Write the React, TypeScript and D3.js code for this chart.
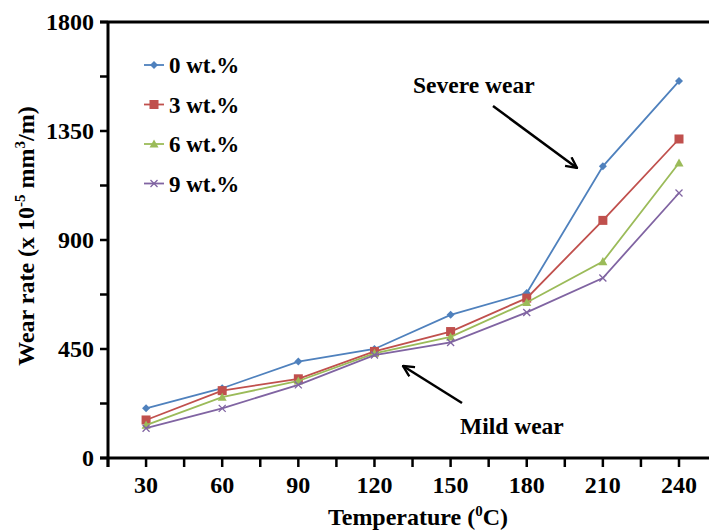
import React from "react";
import * as d3 from "d3";

// Wear rate (x 10^-5 mm^3/m) versus test temperature for four reinforcement contents
const temperatures = [30, 60, 90, 120, 150, 180, 210, 240];
const seriesNames = ["0 wt.%", "3 wt.%", "6 wt.%", "9 wt.%"];
const wear0 = [205, 288, 398, 450, 591, 681, 1204, 1556];
const wear3 = [157, 278, 327, 440, 522, 660, 981, 1317];
const wear6 = [136, 251, 318, 432, 500, 642, 811, 1218];
const wear9 = [123, 205, 302, 425, 477, 601, 743, 1094];
const seriesColors = ["#4f81bd", "#c0504d", "#9bbb59", "#8064a2"];
const markerKinds = ["diamond", "square", "triangle", "cross"];
const xTicks = [30, 60, 90, 120, 150, 180, 210, 240];
const yTicks = [0, 450, 900, 1350, 1800];

const W = 709;
const H = 530;
const FONT = "'Liberation Serif', 'Times New Roman', serif";

function Marker({ kind, x, y, color }: { kind: string; x: number; y: number; color: string }) {
  if (kind === "diamond") {
    const s = 4;
    return <path d={`M${x},${y - s}L${x + s},${y}L${x},${y + s}L${x - s},${y}Z`} fill={color} />;
  }
  if (kind === "square") {
    const s = 4.5;
    return <rect x={x - s} y={y - s} width={2 * s} height={2 * s} fill={color} />;
  }
  if (kind === "triangle") {
    const s = 4.5;
    return <path d={`M${x},${y - s}L${x + s},${y + s * 0.8}L${x - s},${y + s * 0.8}Z`} fill={color} />;
  }
  const s = 3.5;
  return (
    <path
      d={`M${x - s},${y - s}L${x + s},${y + s}M${x - s},${y + s}L${x + s},${y - s}`}
      stroke={color}
      strokeWidth={1.3}
    />
  );
}

export default function App() {
  const x = d3.scaleLinear().domain([15, 240]).range([108, 679]);
  const y = d3.scaleLinear().domain([0, 1800]).range([458, 22]);
  const allSeries = [wear0, wear3, wear6, wear9];
  const line = d3
    .line<number>()
    .x((_, i) => x(temperatures[i]))
    .y((d) => y(d));

  const minorX = d3.range(15, 241, 15);
  const minorY = d3.range(0, 1801, 225);

  return (
    <svg width={W} height={H} style={{ display: "block", position: "absolute", left: 0, top: 0 }}>
      <rect width={W} height={H} fill="#fff" />
      {/* frame lines */}
      <line x1={100} x2={W} y1={y(1800)} y2={y(1800)} stroke="#000" strokeWidth={3} />
      <line x1={x(15)} x2={x(15)} y1={y(1800)} y2={467} stroke="#000" strokeWidth={3} />
      <line x1={100} x2={W} y1={y(0)} y2={y(0)} stroke="#000" strokeWidth={3} />

      {/* y ticks */}
      {minorY.map((v) => (
        <line key={"ym" + v} x1={100} x2={x(15)} y1={y(v)} y2={y(v)} stroke="#000" strokeWidth={2.5} />
      ))}
      {yTicks.map((v) => (
        <text
          key={"yt" + v}
          x={94}
          y={y(v)}
          dy="0.35em"
          textAnchor="end"
          fontFamily={FONT}
          fontWeight="bold"
          fontSize={24}
        >
          {v}
        </text>
      ))}

      {/* x ticks */}
      {minorX.map((v) => (
        <line key={"xm" + v} x1={x(v)} x2={x(v)} y1={y(0)} y2={467} stroke="#000" strokeWidth={2.5} />
      ))}
      {xTicks.map((v) => (
        <text
          key={"xt" + v}
          x={x(v)}
          y={493}
          textAnchor="middle"
          fontFamily={FONT}
          fontWeight="bold"
          fontSize={24}
        >
          {v}
        </text>
      ))}

      {/* axis titles */}
      <text x={418} y={525} textAnchor="middle" fontFamily={FONT} fontWeight="bold" fontSize={24}>
        Temperature (<tspan dy={-9} fontSize={15}>0</tspan>
        <tspan dy={9}>C)</tspan>
      </text>
      <text
        transform="translate(34,236) rotate(-90)"
        textAnchor="middle"
        fontFamily={FONT}
        fontWeight="bold"
        fontSize={24}
      >
        Wear rate (x 10<tspan dy={-9} fontSize={15}>-5</tspan>
        <tspan dy={9}> mm</tspan>
        <tspan dy={-9} fontSize={15}>3</tspan>
        <tspan dy={9}>/m)</tspan>
      </text>

      {/* series */}
      {allSeries.map((vals, si) => (
        <g key={"s" + si}>
          <path d={line(vals) || ""} fill="none" stroke={seriesColors[si]} strokeWidth={1.8} />
          {vals.map((v, i) => (
            <Marker key={i} kind={markerKinds[si]} x={x(temperatures[i])} y={y(v)} color={seriesColors[si]} />
          ))}
        </g>
      ))}

      {/* legend */}
      {seriesNames.map((name, i) => {
        const ly = 65 + i * 39.5;
        return (
          <g key={"lg" + i}>
            <line x1={144} x2={164} y1={ly} y2={ly} stroke={seriesColors[i]} strokeWidth={1.8} />
            <Marker kind={markerKinds[i]} x={154} y={ly} color={seriesColors[i]} />
            <text x={169} y={ly} dy="0.35em" fontFamily={FONT} fontWeight="bold" fontSize={23}>
              {name}
            </text>
          </g>
        );
      })}

      {/* annotations */}
      <defs>
        <marker id="arrowHead" viewBox="0 0 12 12" refX={11} refY={6} markerWidth={13} markerHeight={13} markerUnits="userSpaceOnUse" orient="auto">
          <path d="M1,1L11,6L1,11" fill="none" stroke="#000" strokeWidth={2.2} />
        </marker>
      </defs>
      <text x={413} y={93} fontFamily={FONT} fontWeight="bold" fontSize={23.5}>
        Severe wear
      </text>
      <line x1={493} y1={106} x2={577} y2={168} stroke="#000" strokeWidth={2.5} markerEnd="url(#arrowHead)" />
      <text x={460} y={434} fontFamily={FONT} fontWeight="bold" fontSize={23.5}>
        Mild wear
      </text>
      <line x1={462} y1={403} x2={403} y2={366} stroke="#000" strokeWidth={2.5} markerEnd="url(#arrowHead)" />
    </svg>
  );
}
